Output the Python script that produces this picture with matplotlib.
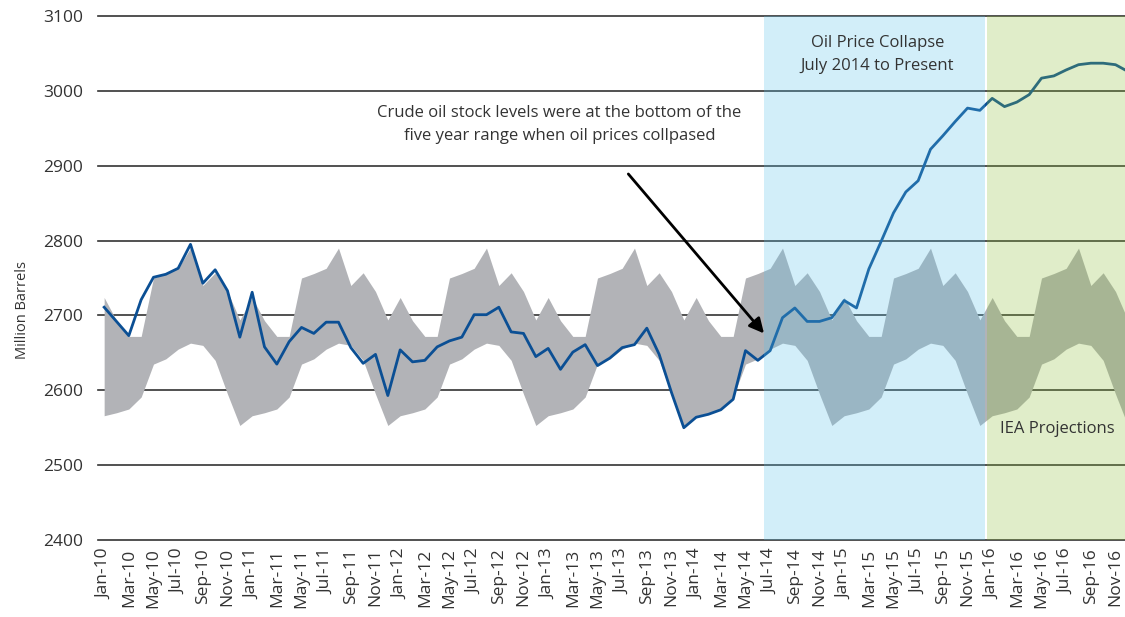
import numpy as np
import pandas as pd
import matplotlib
matplotlib.use("Agg")
import matplotlib.pyplot as plt

plt.rcParams['font.family'] = ['Open Sans', 'DejaVu Sans']

# monthly categories Jan-10 .. Dec-16
months = list(pd.date_range("2010-01-01", "2016-12-01", freq="MS").strftime("%b-%y"))

# five year range (upper / lower edge of grey band), million barrels
band_high = [2724, 2693, 2672, 2672, 2750, 2756, 2763, 2790, 2740, 2757, 2732, 2694,
             2724, 2693, 2672, 2672, 2750, 2756, 2763, 2790, 2740, 2757, 2732, 2694,
             2724, 2693, 2672, 2672, 2750, 2756, 2763, 2790, 2740, 2757, 2732, 2694,
             2724, 2693, 2672, 2672, 2750, 2756, 2763, 2790, 2740, 2757, 2732, 2694,
             2724, 2693, 2672, 2672, 2750, 2756, 2763, 2790, 2740, 2757, 2732, 2694,
             2724, 2693, 2672, 2672, 2750, 2756, 2763, 2790, 2740, 2757, 2732, 2694,
             2724, 2693, 2672, 2672, 2750, 2756, 2763, 2790, 2740, 2757, 2732, 2694]
band_low = [2566, 2570, 2575, 2591, 2635, 2642, 2655, 2663, 2660, 2640, 2595, 2553,
            2566, 2570, 2575, 2591, 2635, 2642, 2655, 2663, 2660, 2640, 2595, 2553,
            2566, 2570, 2575, 2591, 2635, 2642, 2655, 2663, 2660, 2640, 2595, 2553,
            2566, 2570, 2575, 2591, 2635, 2642, 2655, 2663, 2660, 2640, 2595, 2553,
            2566, 2570, 2575, 2591, 2635, 2642, 2655, 2663, 2660, 2640, 2595, 2553,
            2566, 2570, 2575, 2591, 2635, 2642, 2655, 2663, 2660, 2640, 2595, 2553,
            2566, 2570, 2575, 2591, 2635, 2642, 2655, 2663, 2660, 2640, 2595, 2553]

# crude oil stocks (actual, then IEA projections)
stocks = [2711, 2692, 2673, 2721, 2751, 2755, 2763, 2795, 2743, 2761, 2733, 2671,
          2731, 2658, 2635, 2665, 2684, 2676, 2691, 2691, 2657, 2636, 2648, 2593,
          2654, 2638, 2640, 2658, 2666, 2671, 2701, 2701, 2711, 2678, 2676, 2645,
          2656, 2628, 2651, 2661, 2633, 2643, 2657, 2661, 2683, 2648, 2597, 2550,
          2564, 2568, 2574, 2588, 2653, 2640, 2653, 2697, 2710, 2692, 2692, 2697,
          2720, 2710, 2762, 2799, 2837, 2865, 2880, 2922, 2940, 2959, 2977, 2974,
          2990, 2979, 2985, 2995, 3017, 3020, 3028, 3035, 3037, 3037, 3035, 3026]

yticks = [2400, 2500, 2600, 2700, 2800, 2900, 3000, 3100]
txt = '#333333'

x = np.arange(len(months))

fig = plt.figure(figsize=(11.25, 6.17), dpi=100)
ax = fig.add_axes([0.0871, 0.1248, 0.9129, 0.8492])

for v in yticks:
    ax.axhline(v, color='#333333', lw=1.2, zorder=1, clip_on=False)

ax.fill_between(x, band_low, band_high, color='#B2B3B7', lw=0, zorder=2)
ax.plot(x, stocks, color='#0B4F94', lw=2.0, zorder=3)

# shaded periods
ax.axvspan(53.5, 71.4, color='#5CC1E9', alpha=0.27, lw=0, zorder=4)
ax.axvspan(71.6, 84, color='#8DBD38', alpha=0.27, lw=0, zorder=4)

ax.text(62.7, 3049, "Oil Price Collapse\nJuly 2014 to Present", ha='center', va='center',
        fontsize=12, color=txt, linespacing=1.55, zorder=5)
ax.text(77.3, 2548, "IEA Projections", ha='center', va='center',
        fontsize=12, color=txt, zorder=5)
ax.text(36.9, 2955, "Crude oil stock levels were at the bottom of the\nfive year range when oil prices collpased",
        ha='center', va='center', fontsize=12, color=txt, linespacing=1.55, zorder=5)

ax.annotate("", xy=(53.5, 2676), xytext=(42.5, 2889),
            arrowprops=dict(arrowstyle='-|>', color='black', lw=2, mutation_scale=22,
                            shrinkA=0, shrinkB=0), zorder=5)

ax.set_xlim(-0.5, 82.77)
ax.set_ylim(2400, 3100)
ax.set_yticks(yticks)
ax.set_yticklabels([str(v) for v in yticks], fontsize=12.5, color=txt)
ax.set_xticks(x[::2])
ax.set_xticklabels(months[::2], rotation=90, fontsize=12.5, color=txt)
ax.tick_params(axis='y', length=0, pad=11)
ax.tick_params(axis='x', length=0, pad=6)
for s in ax.spines.values():
    s.set_visible(False)

ax.set_ylabel("Million Barrels", fontsize=10.5, color=txt)
ax.yaxis.set_label_coords(-0.066, 0.439)

fig.savefig("out.png", dpi=100)
